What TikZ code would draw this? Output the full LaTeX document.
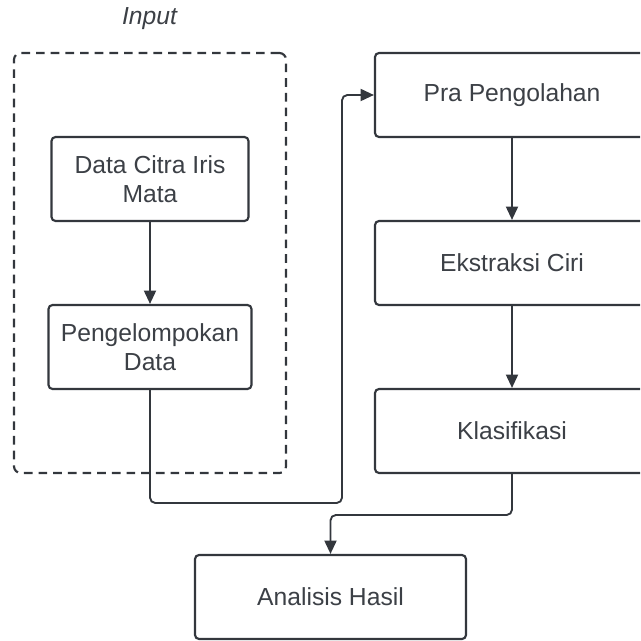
\documentclass[tikz,border=0pt]{standalone}
\usepackage{fontspec}
\setmainfont{Liberation Sans}
\usetikzlibrary{arrows.meta}
\definecolor{ln}{HTML}{33373D}
\definecolor{tx}{HTML}{3C4046}
\begin{document}
\begin{tikzpicture}[x=0.75pt,y=-0.75pt,
  box/.style={draw=ln,line width=1.6pt,rounded corners=3pt,inner sep=0pt,align=center,
    font=\fontsize{18.5}{21.5}\selectfont,text=tx,fill=white},
  grp/.style={draw=ln,line width=1.6pt,rounded corners=5pt,dash pattern=on 6.5pt off 4.5pt},
  conn/.style={draw=ln,line width=1.4pt,rounded corners=4pt,-{Triangle[length=10pt,width=9pt]}}]
\useasboundingbox (0,0) rectangle (640,641);
\clip (0,0) rectangle (640,641);
\node[grp,minimum width=204pt,minimum height=315pt] (group) at (150,263) {};
\node[font=\itshape\fontsize{18.5}{21.5}\selectfont,text=tx] (inlabel) at (149.5,19) {Input};
\node[box,minimum width=147.75pt,minimum height=63pt] (citra) at (150,179) {Data Citra Iris\\Mata};
\node[box,minimum width=152.25pt,minimum height=63pt] (peng) at (150,347) {Pengelompokan\\Data};
\node[box,minimum width=205.5pt,minimum height=63pt] (pra) at (512,95) {Pra Pengolahan};
\node[box,minimum width=205.5pt,minimum height=63pt] (ekst) at (512,263) {Ekstraksi Ciri};
\node[box,minimum width=205.5pt,minimum height=63pt] (klas) at (512,431) {Klasifikasi};
\node[box,minimum width=203.25pt,minimum height=63pt] (anal) at (330.5,597) {Analisis Hasil};
\draw[conn] (citra) -- (peng);
\draw[conn] (pra) -- (ekst);
\draw[conn] (ekst) -- (klas);
\draw[conn] (peng.south) -- (peng.south |- 0,503) -- (342,503) -- (342,95) -- (pra.west);
\draw[conn] (klas.south) -- (klas.south |- 0,515) -- (anal.north |- 0,515) -- (anal.north);
\end{tikzpicture}
\end{document}
